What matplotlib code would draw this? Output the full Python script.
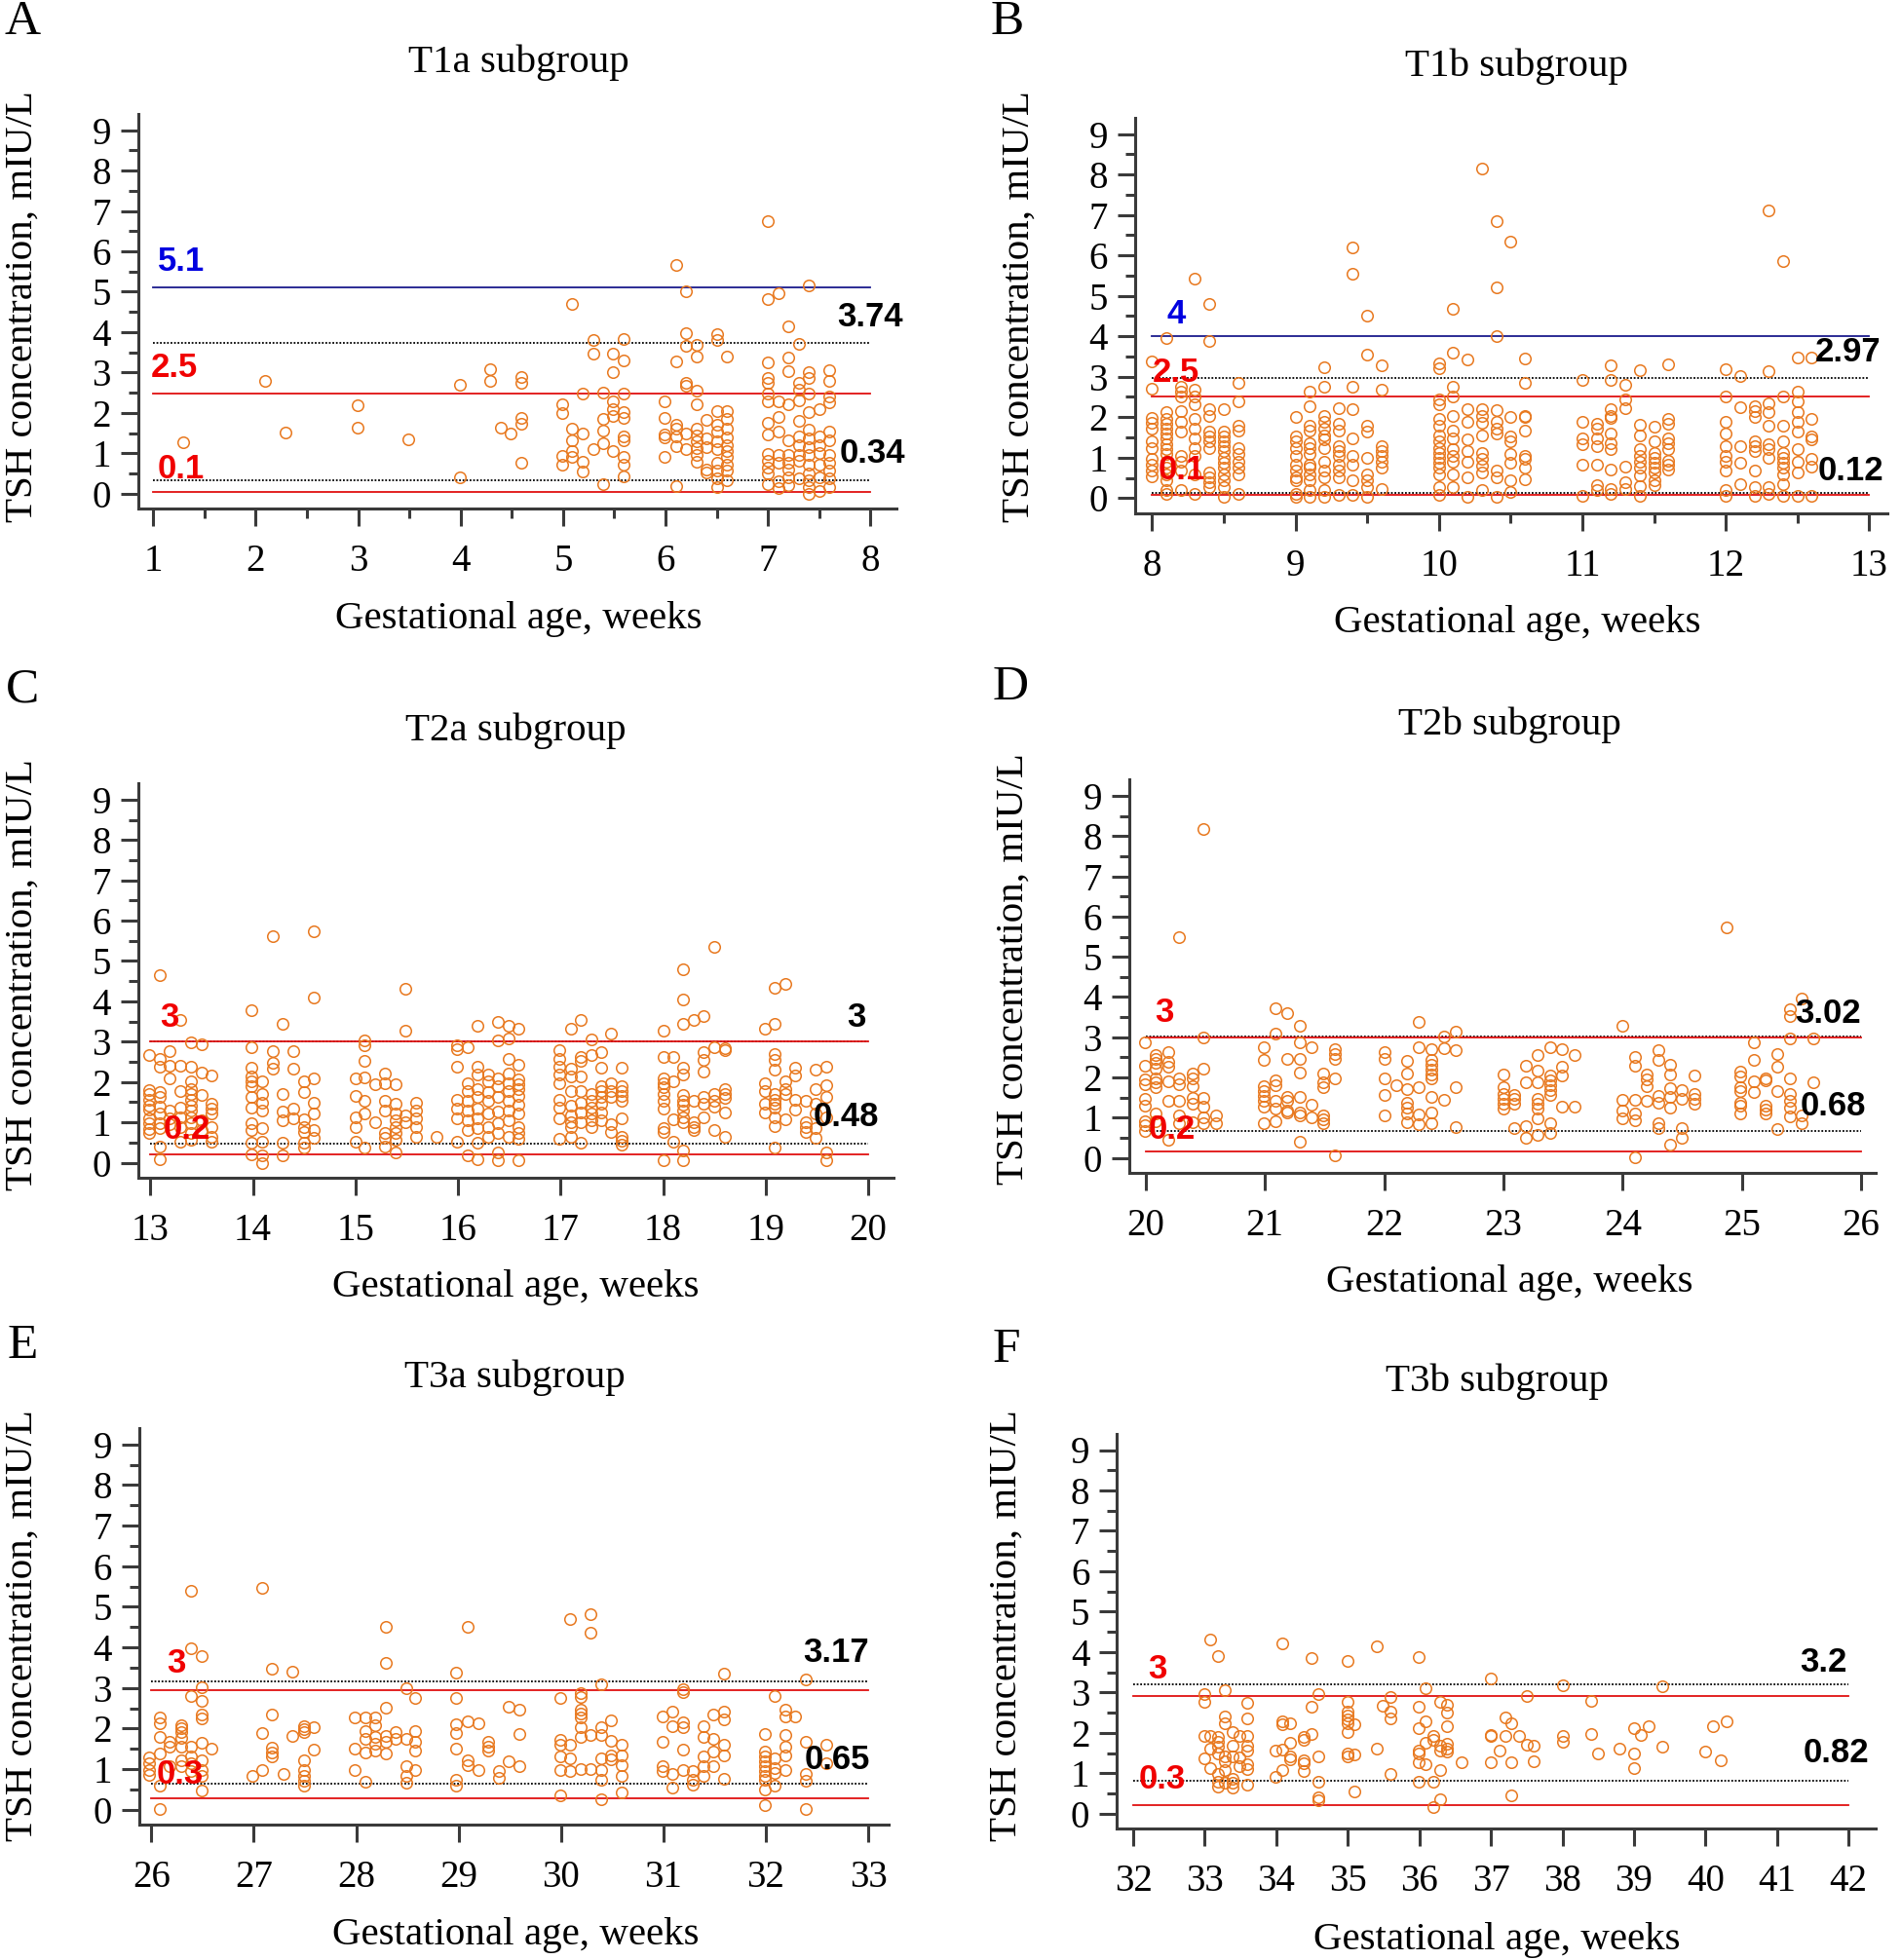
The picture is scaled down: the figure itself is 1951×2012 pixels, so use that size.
import matplotlib
matplotlib.use("Agg")
import matplotlib.pyplot as plt
from matplotlib.ticker import MultipleLocator

plt.rcParams['font.family'] = ['Liberation Serif', 'DejaVu Serif']

W, H = 1951, 2012

# ---- data: columns of points (gestational age, [TSH values]) ----
t1a_cols = [
    (1.29, [1.27]), (2.09, [2.79]), (2.29, [1.52]), (2.99, [2.18, 1.63]),
    (3.49, [1.35]), (3.99, [2.70, 0.40]), (4.29, [3.08, 2.80]), (4.39, [1.64]),
    (4.49, [1.48]), (4.59, [2.88, 2.75, 1.87, 1.73, 0.76]),
    (4.99, [2.21, 2.00, 0.94, 0.73]), (5.09, [4.70, 1.61, 1.32, 1.05, 0.90]),
    (5.19, [2.48, 1.49, 0.79, 0.55]), (5.30, [3.80, 3.46, 1.10]),
    (5.39, [2.50, 1.85, 1.56, 1.24, 0.23]), (5.49, [3.46, 3.00, 2.29, 2.09, 1.93, 1.05]),
    (5.59, [3.84, 3.30, 2.48, 2.03, 1.87, 1.43, 1.32, 0.90, 0.71, 0.42]),
    (5.99, [2.29, 1.88, 1.47, 1.40, 0.90]),
    (6.10, [5.67, 3.28, 1.71, 1.60, 1.43, 1.17, 0.20]),
    (6.20, [5.00, 3.98, 3.65, 2.75, 2.66, 1.49, 1.10]),
    (6.30, [3.68, 3.40, 2.54, 2.21, 1.61, 1.45, 1.29, 1.13, 0.97, 0.79]),
    (6.40, [1.82, 1.37, 1.16, 0.61, 0.53]),
    (6.50, [3.96, 3.80, 2.05, 1.71, 1.53, 1.29, 1.10, 0.76, 0.57, 0.39, 0.16]),
    (6.60, [3.40, 2.05, 1.85, 1.60, 1.40, 1.21, 1.06, 0.90, 0.73, 0.57, 0.33]),
    (7.00, [6.74, 4.81, 3.24, 2.87, 2.74, 2.48, 2.29, 1.75, 1.47, 0.98, 0.81, 0.65, 0.49, 0.23]),
    (7.10, [4.97, 2.29, 1.89, 1.53, 0.97, 0.77, 0.31, 0.15]),
    (7.20, [4.14, 3.38, 3.04, 2.21, 1.31, 0.97, 0.77, 0.60, 0.41, 0.21]),
    (7.30, [3.72, 2.75, 2.58, 2.30, 1.80, 1.41, 1.21, 0.97, 0.81, 0.37]),
    (7.40, [5.15, 3.02, 2.87, 2.48, 2.01, 1.59, 1.37, 1.16, 0.97, 0.73, 0.50, 0.33, 0.16, 0.00]),
    (7.50, [2.09, 1.41, 1.21, 1.01, 0.73, 0.41, 0.07]),
    (7.60, [3.06, 2.80, 2.40, 2.25, 1.55, 1.31, 0.97, 0.76, 0.57, 0.37, 0.16]),
]

t1b_cols = [
    (8.00, [3.39, 2.70, 1.97, 1.86, 1.72, 1.40, 1.24, 0.98, 0.83, 0.67, 0.53]),
    (8.10, [3.96, 2.12, 1.96, 1.84, 1.72, 1.60, 1.48, 1.33, 1.22, 1.08, 0.91, 0.75, 0.59, 0.43, 0.19, 0.11]),
    (8.20, [2.76, 2.64, 2.52, 2.16, 1.88, 1.64, 1.04, 0.91, 0.67, 0.19]),
    (8.30, [5.43, 2.68, 2.52, 2.32, 1.96, 1.72, 1.48, 1.24, 1.04, 0.59, 0.11]),
    (8.40, [4.81, 3.88, 2.20, 2.04, 1.64, 1.52, 1.40, 1.24, 0.63, 0.51, 0.39, 0.27]),
    (8.50, [2.20, 1.64, 1.52, 1.40, 1.28, 1.16, 1.00, 0.87, 0.75, 0.59, 0.43, 0.27, 0.03]),
    (8.60, [2.84, 2.40, 1.80, 1.68, 1.24, 1.08, 0.91, 0.75, 0.59, 0.11]),
    (9.00, [2.00, 1.52, 1.40, 1.24, 1.04, 0.83, 0.67, 0.51, 0.43, 0.11, 0.03]),
    (9.10, [2.62, 2.26, 1.80, 1.68, 1.36, 1.24, 1.08, 0.83, 0.75, 0.59, 0.43, 0.19, 0.03]),
    (9.20, [3.23, 2.74, 2.04, 1.88, 1.72, 1.56, 1.44, 1.24, 0.91, 0.67, 0.51, 0.19, 0.03]),
    (9.30, [2.23, 1.84, 1.68, 1.28, 1.16, 1.04, 0.83, 0.67, 0.51, 0.07]),
    (9.40, [6.20, 5.55, 2.76, 2.20, 1.48, 1.04, 0.83, 0.43, 0.07]),
    (9.50, [4.50, 3.55, 1.80, 1.64, 1.00, 0.59, 0.43, 0.27, 0.03]),
    (9.60, [3.28, 2.68, 1.28, 1.16, 1.04, 0.91, 0.75, 0.23]),
    (10.00, [3.32, 3.20, 2.44, 2.32, 1.96, 1.80, 1.56, 1.40, 1.24, 1.12, 1.00, 0.87, 0.75, 0.59, 0.27, 0.07]),
    (10.10, [4.69, 3.60, 2.76, 2.52, 2.04, 1.68, 1.48, 1.20, 1.04, 0.91, 0.59, 0.27]),
    (10.20, [3.42, 2.20, 1.89, 1.44, 1.16, 0.91, 0.51, 0.03]),
    (10.30, [8.14, 2.20, 2.02, 1.86, 1.56, 1.12, 0.96, 0.79, 0.63, 0.19]),
    (10.40, [6.84, 5.21, 4.00, 2.18, 1.88, 1.72, 1.60, 0.67, 0.51, 0.03]),
    (10.50, [6.35, 2.00, 1.52, 1.40, 1.08, 0.87, 0.43, 0.15]),
    (10.60, [3.44, 2.84, 2.04, 2.00, 1.68, 1.04, 0.96, 0.75, 0.47]),
    (11.00, [2.92, 1.89, 1.48, 1.33, 0.83, 0.05]),
    (11.10, [1.84, 1.72, 1.48, 1.28, 0.83, 0.31, 0.19]),
    (11.20, [3.27, 2.92, 2.20, 2.04, 1.97, 1.60, 1.36, 1.20, 0.71, 0.23, 0.11]),
    (11.30, [2.79, 2.44, 2.22, 0.77, 0.39, 0.23]),
    (11.40, [3.16, 1.81, 1.56, 1.20, 1.04, 0.91, 0.75, 0.55, 0.29, 0.05]),
    (11.50, [1.76, 1.40, 1.12, 1.00, 0.87, 0.75, 0.63, 0.43, 0.31]),
    (11.60, [3.30, 1.96, 1.84, 1.48, 1.36, 1.20, 0.93, 0.83, 0.71]),
    (12.00, [3.18, 2.52, 1.89, 1.60, 1.28, 1.04, 0.91, 0.67, 0.19, 0.05]),
    (12.10, [3.02, 2.24, 1.28, 0.87, 0.34]),
    (12.20, [2.28, 2.16, 2.00, 1.40, 1.28, 1.16, 0.67, 0.27, 0.05]),
    (12.30, [7.12, 3.14, 2.34, 2.12, 1.80, 1.32, 1.20, 1.00, 0.27, 0.11]),
    (12.40, [5.86, 2.52, 1.80, 1.40, 1.12, 1.00, 0.87, 0.75, 0.59, 0.35, 0.05]),
    (12.50, [3.48, 2.64, 2.38, 2.13, 1.88, 1.65, 1.20, 0.91, 0.63, 0.05]),
    (12.60, [3.48, 1.96, 1.52, 1.44, 0.96, 0.77, 0.05]),
]

t2a_cols = [
    (12.99, [2.66, 1.79, 1.71, 1.55, 1.41, 1.31, 1.09, 0.99, 0.83, 0.73]),
    (13.09, [4.66, 2.58, 2.38, 1.74, 1.62, 1.39, 1.21, 0.99, 0.85, 0.39, 0.09]),
    (13.19, [2.76, 2.40, 2.08, 1.29, 1.09, 0.95]),
    (13.29, [3.53, 2.40, 1.78, 1.37, 1.13, 0.89, 0.53]),
    (13.40, [2.98, 2.38, 2.02, 1.82, 1.70, 1.55, 1.41, 1.29, 1.13, 0.97, 0.73, 0.57]),
    (13.50, [2.94, 2.24, 1.68, 1.05, 0.81]),
    (13.60, [2.16, 1.45, 1.33, 1.21, 0.89, 0.65, 0.53]),
    (13.99, [3.79, 2.86, 2.36, 2.14, 2.02, 1.90, 1.62, 1.37, 0.97, 0.81, 0.50, 0.21]),
    (14.09, [2.02, 1.70, 1.49, 1.29, 0.85, 0.53, 0.17, 0.00]),
    (14.19, [5.62, 2.76, 2.48, 2.34]),
    (14.29, [3.44, 1.71, 1.28, 1.05, 0.50, 0.18]),
    (14.39, [2.76, 2.34, 1.33, 1.09]),
    (14.50, [2.02, 1.74, 1.07, 0.89, 0.77, 0.49, 0.37]),
    (14.59, [5.74, 4.10, 2.10, 1.49, 1.21, 0.81, 0.61]),
    (15.00, [2.10, 1.66, 1.13, 0.87, 0.53]),
    (15.09, [3.02, 2.92, 2.52, 2.11, 1.53, 1.21, 0.37]),
    (15.19, [1.95, 1.01]),
    (15.29, [2.22, 1.98, 1.53, 1.29, 0.73, 0.61, 0.41]),
    (15.39, [1.95, 1.45, 1.21, 1.05, 0.89, 0.73, 0.57, 0.25]),
    (15.49, [4.30, 3.28, 1.17, 1.01]),
    (15.59, [1.49, 1.29, 1.09, 0.89, 0.65]),
    (15.79, [0.65]),
    (15.99, [2.90, 2.82, 2.38, 1.55, 1.33, 1.09, 0.53]),
    (16.09, [2.86, 1.98, 1.78, 1.53, 1.29, 1.05, 0.81, 0.17]),
    (16.19, [3.40, 2.38, 2.18, 1.82, 1.62, 1.33, 1.09, 0.85, 0.49, 0.09]),
    (16.29, [2.19, 2.02, 1.74, 1.53, 1.21, 0.89, 0.65]),
    (16.39, [3.48, 3.02, 2.10, 1.90, 1.62, 1.28, 0.97, 0.73, 0.25, 0.05]),
    (16.49, [3.39, 3.08, 2.57, 2.22, 1.98, 1.78, 1.53, 1.29, 1.05, 0.65]),
    (16.59, [3.32, 2.42, 2.06, 1.95, 1.82, 1.66, 1.44, 1.21, 0.89, 0.73, 0.58, 0.05]),
    (16.99, [2.78, 2.58, 2.38, 2.18, 1.98, 1.57, 1.37, 1.09, 0.58]),
    (17.10, [3.31, 2.34, 2.14, 1.78, 1.41, 1.17, 1.01, 0.89, 0.63]),
    (17.20, [3.55, 2.62, 2.52, 2.14, 1.78, 1.49, 1.25, 1.01, 0.50]),
    (17.30, [3.06, 2.66, 1.71, 1.53, 1.37, 1.21, 1.05, 0.89]),
    (17.40, [2.73, 2.36, 1.90, 1.78, 1.62, 1.45, 1.25, 1.05]),
    (17.49, [3.20, 1.98, 1.78, 1.62, 0.95, 0.77]),
    (17.60, [2.36, 1.90, 1.78, 1.66, 1.53, 1.09, 0.63, 0.55, 0.45]),
    (18.00, [3.27, 2.62, 2.10, 1.98, 1.86, 1.71, 1.53, 1.33, 0.85, 0.77, 0.05]),
    (18.10, [2.62, 2.02, 1.07, 0.53]),
    (18.19, [4.80, 4.05, 3.45, 2.36, 2.18, 1.68, 1.53, 1.44, 1.29, 1.13, 1.01, 0.29, 0.05]),
    (18.30, [3.55, 1.53, 1.01, 0.89, 0.81]),
    (18.39, [3.63, 2.73, 2.54, 2.26, 1.63, 1.45, 1.13]),
    (18.50, [5.36, 2.86, 1.70, 1.53, 1.39, 0.81]),
    (18.60, [2.84, 2.78, 1.82, 1.70, 1.60, 1.25, 0.63]),
    (18.99, [3.32, 1.98, 1.78, 1.45, 1.25]),
    (19.09, [4.34, 3.43, 2.70, 2.54, 2.30, 1.70, 1.57, 1.45, 1.36, 1.13, 0.91, 0.37]),
    (19.19, [4.43, 2.02, 1.82, 1.70, 1.07]),
    (19.29, [2.36, 2.16, 1.55, 1.31]),
    (19.39, [1.53, 1.01, 0.89, 0.77]),
    (19.49, [2.30, 1.82, 1.45, 1.21, 0.85, 0.61]),
    (19.59, [2.38, 1.91, 1.63, 1.13, 0.25, 0.07]),
]

t2b_cols = [
    (19.99, [2.87, 2.29, 1.95, 1.83, 1.46, 1.30, 0.92, 0.82, 0.66]),
    (20.08, [2.55, 2.47, 2.37, 2.21, 1.99, 1.89, 1.76, 1.10, 0.92]),
    (20.19, [2.63, 2.39, 2.27, 1.91, 1.41, 0.45]),
    (20.28, [5.49, 1.99, 1.83, 1.41, 1.06, 0.86]),
    (20.39, [2.11, 1.99, 1.79, 1.50, 1.34, 0.90]),
    (20.48, [8.18, 3.00, 2.21, 1.50, 1.28, 1.02, 0.86]),
    (20.59, [1.06, 0.86]),
    (20.99, [2.75, 2.43, 1.79, 1.66, 1.54, 1.42, 1.28, 0.87]),
    (21.09, [3.72, 3.09, 1.92, 1.81, 1.41, 1.22, 0.92]),
    (21.19, [3.60, 2.47, 1.52, 1.41, 1.18, 1.12]),
    (21.29, [3.28, 2.87, 2.47, 2.13, 1.52, 1.14, 1.06, 0.41]),
    (21.39, [2.75, 1.33, 1.00]),
    (21.49, [2.11, 1.87, 1.76, 1.06, 0.95, 0.86]),
    (21.59, [2.71, 2.59, 2.47, 1.99, 0.07]),
    (22.00, [2.63, 2.47, 1.99, 1.57, 1.07]),
    (22.10, [1.81]),
    (22.19, [2.41, 2.11, 1.70, 1.38, 1.26, 1.11, 0.90]),
    (22.29, [3.38, 2.75, 1.76, 1.08, 0.84]),
    (22.40, [2.70, 2.43, 2.31, 2.19, 2.07, 1.99, 1.53, 1.14, 0.87]),
    (22.50, [3.02, 2.73, 1.44]),
    (22.60, [3.13, 2.69, 1.77, 0.76]),
    (23.00, [2.08, 1.75, 1.60, 1.46, 1.34, 1.22]),
    (23.09, [1.57, 1.46, 1.36, 0.74]),
    (23.19, [2.29, 1.89, 0.78, 0.49]),
    (23.29, [2.55, 2.16, 1.89, 1.46, 1.34, 1.22, 0.98, 0.57]),
    (23.39, [2.75, 2.05, 1.92, 1.81, 1.68, 1.57, 0.87, 0.63]),
    (23.49, [2.71, 2.27, 2.05, 1.28]),
    (23.60, [2.55, 1.28]),
    (24.00, [3.29, 1.44, 1.18, 0.98]),
    (24.10, [2.51, 2.29, 1.44, 1.10, 0.94, 0.01]),
    (24.20, [2.08, 1.95, 1.79, 1.42]),
    (24.30, [2.67, 2.43, 1.54, 1.38, 0.86, 0.74]),
    (24.40, [2.31, 2.08, 1.73, 1.52, 1.24, 0.33]),
    (24.50, [1.68, 1.46, 0.74, 0.49]),
    (24.60, [2.05, 1.58, 1.46, 1.34]),
    (24.87, [5.74]),
    (24.99, [2.15, 2.03, 1.75, 1.66, 1.38, 1.30, 1.11]),
    (25.10, [2.87, 2.43, 1.91, 1.65]),
    (25.20, [1.99, 1.92, 1.30, 1.20, 1.11]),
    (25.30, [2.59, 2.27, 1.66, 0.71]),
    (25.40, [3.70, 3.52, 2.97, 1.99, 1.58, 1.42, 1.26, 1.03]),
    (25.50, [3.96, 1.06, 0.86]),
    (25.60, [2.96, 1.88]),
]

t3a_cols = [
    (25.98, [1.28, 1.15, 0.99, 0.87]),
    (26.08, [2.27, 2.12, 1.79, 1.39, 0.59, 0.03]),
    (26.18, [1.67, 1.56, 1.07]),
    (26.29, [2.08, 2.01, 1.91, 1.77, 1.56, 1.23, 1.07]),
    (26.39, [5.39, 3.97, 2.81, 1.56, 1.31, 1.15, 0.95]),
    (26.49, [3.79, 3.01, 2.68, 2.35, 2.25, 1.64, 1.21, 0.99, 0.83, 0.47]),
    (26.59, [1.50]),
    (26.99, [0.84]),
    (27.08, [5.46, 1.88, 0.97]),
    (27.18, [3.47, 2.35, 1.53, 1.40, 1.31]),
    (27.29, [0.89]),
    (27.38, [3.40, 1.82]),
    (27.49, [2.06, 1.99, 1.91, 1.23, 0.99, 0.83, 0.71, 0.59]),
    (27.59, [2.04, 1.48]),
    (27.99, [2.27, 1.51, 0.99]),
    (28.09, [2.27, 1.93, 1.75, 1.40, 0.70]),
    (28.19, [2.27, 2.09, 1.79, 1.63, 1.47]),
    (28.29, [4.51, 3.63, 2.52, 1.83, 1.67, 1.39]),
    (28.39, [1.91, 1.75]),
    (28.49, [2.99, 1.75, 1.07, 0.83, 0.67]),
    (28.58, [2.76, 1.93, 1.67, 1.47, 0.97]),
    (28.98, [3.39, 2.76, 2.11, 1.88, 1.51, 0.75, 0.59]),
    (29.09, [4.51, 2.19, 1.23, 1.11]),
    (29.19, [2.14, 0.97]),
    (29.29, [1.67, 1.56, 1.45]),
    (29.39, [0.95, 0.79]),
    (29.49, [2.53, 1.20]),
    (29.59, [2.46, 1.87, 1.07]),
    (29.99, [2.76, 1.72, 1.61, 1.31, 0.99, 0.36]),
    (30.09, [4.70, 1.61, 1.27, 0.95]),
    (30.19, [2.87, 2.79, 2.47, 2.36, 2.28, 2.03, 1.79, 1.00]),
    (30.29, [4.81, 4.36, 1.85, 1.00]),
    (30.39, [3.08, 2.04, 1.85, 1.27, 0.99, 0.75, 0.25]),
    (30.49, [2.20, 1.71, 1.35, 1.24]),
    (30.59, [1.61, 1.35, 1.11, 0.83, 0.43]),
    (30.99, [2.31, 1.67, 1.07, 0.95]),
    (31.09, [2.41, 2.07, 0.89, 0.55]),
    (31.19, [2.97, 2.91, 2.15, 2.04, 1.48, 0.99]),
    (31.29, [0.95, 0.75, 0.63]),
    (31.39, [2.07, 1.79, 1.31, 1.08, 0.84]),
    (31.49, [2.35, 1.75, 1.43, 1.07]),
    (31.59, [3.36, 2.41, 2.23, 1.61, 1.35, 0.76]),
    (31.99, [1.87, 1.43, 1.31, 1.19, 1.07, 0.95, 0.83, 0.75, 0.51, 0.12]),
    (32.09, [2.80, 1.27, 1.03, 0.91, 0.59]),
    (32.19, [2.46, 2.31, 1.85, 1.56, 1.35, 0.99]),
    (32.29, [2.31]),
    (32.39, [3.21, 1.67, 0.89, 0.71, 0.01]),
    (32.59, [1.61, 1.15]),
]

t3b_cols = [
    (32.99, [2.97, 2.77, 1.93, 1.37]),
    (33.08, [4.32, 1.93, 1.61, 1.13]),
    (33.18, [3.90, 1.89, 1.77, 1.65, 1.49, 0.97, 0.78, 0.68]),
    (33.28, [3.06, 2.41, 2.23, 1.41, 1.29, 1.09, 0.76]),
    (33.39, [2.03, 1.69, 1.41, 0.86, 0.76, 0.64]),
    (33.49, [1.93, 1.39, 1.17]),
    (33.59, [2.73, 2.35, 1.93, 1.69, 1.57, 1.23, 1.10, 0.72]),
    (33.99, [1.55, 0.91]),
    (34.09, [4.22, 2.29, 2.21, 1.59, 1.09]),
    (34.19, [2.24, 1.75, 1.41, 1.34]),
    (34.39, [1.89, 1.83, 1.31, 1.25, 1.05]),
    (34.49, [3.84, 2.65, 1.97]),
    (34.59, [2.97, 1.41, 0.80, 0.40, 0.32]),
    (34.99, [3.77, 2.77, 2.53, 2.44, 2.33, 2.23, 2.03, 1.50, 1.42]),
    (35.09, [2.21, 1.47, 0.54]),
    (35.40, [4.14, 1.61]),
    (35.49, [2.67]),
    (35.59, [2.89, 2.53, 2.36, 0.97]),
    (35.99, [3.88, 2.65, 2.11, 1.57, 1.49, 1.26, 0.80]),
    (36.09, [3.11, 2.28, 1.75, 1.23]),
    (36.19, [1.91, 1.83, 0.78, 0.16]),
    (36.29, [2.77, 1.69, 1.57, 1.09, 0.35]),
    (36.39, [2.69, 2.49, 2.17, 1.73, 1.61, 1.53]),
    (36.59, [1.26]),
    (37.00, [3.34, 1.95, 1.91, 1.26]),
    (37.12, [1.57]),
    (37.20, [2.39, 1.91]),
    (37.29, [2.23, 1.26, 0.44]),
    (37.40, [1.91]),
    (37.50, [2.91, 1.71]),
    (37.60, [1.69, 1.29]),
    (38.00, [3.18, 1.93, 1.77]),
    (38.40, [2.80, 1.97]),
    (38.50, [1.50]),
    (38.80, [1.61]),
    (39.00, [2.11, 1.50, 1.13]),
    (39.10, [1.95]),
    (39.20, [2.17]),
    (39.40, [3.16, 1.66]),
    (40.00, [1.54]),
    (40.11, [2.17]),
    (40.21, [1.31]),
    (40.30, [2.28]),
]

# reference lines: (value, kind)
t1a_lines = [(5.1, 'blue'), (3.74, 'dot'), (2.48, 'red'), (0.34, 'dot'), (0.05, 'red')]
t1b_lines = [(4.0, 'blue'), (2.97, 'dot'), (2.5, 'red'), (0.12, 'dot'), (0.09, 'red')]
t2a_lines = [(3.0, 'dot'), (3.0, 'red'), (0.48, 'dot'), (0.21, 'red')]
t2b_lines = [(3.02, 'dot'), (2.99, 'red'), (0.68, 'dot'), (0.16, 'red')]
t3a_lines = [(3.17, 'dot'), (2.95, 'red'), (0.65, 'dot'), (0.28, 'red')]
t3b_lines = [(3.2, 'dot'), (2.92, 'red'), (0.82, 'dot'), (0.22, 'red')]

# value labels: (text, x, y, kind, ha)
t1a_labels = [('5.1', 1.04, 5.75, 'blue', 'left'), ('2.5', 0.98, 3.12, 'red', 'left'),
              ('0.1', 1.04, 0.61, 'red', 'left'), ('3.74', 8.32, 4.37, 'black', 'right'),
              ('0.34', 8.34, 1.0, 'black', 'right')]
t1b_labels = [('4', 8.10, 4.55, 'blue', 'left'), ('2.5', 8.0, 3.1, 'red', 'left'),
              ('0.1', 8.04, 0.69, 'red', 'left'), ('2.97', 13.08, 3.6, 'black', 'right'),
              ('0.12', 13.1, 0.66, 'black', 'right')]
t2a_labels = [('3', 13.09, 3.61, 'red', 'left'), ('0.2', 13.13, 0.83, 'red', 'left'),
              ('3', 19.98, 3.59, 'black', 'right'), ('0.48', 20.11, 1.13, 'black', 'right')]
t2b_labels = [('3', 20.08, 3.62, 'red', 'left'), ('0.2', 20.02, 0.71, 'red', 'left'),
              ('3.02', 26.0, 3.6, 'black', 'right'), ('0.68', 26.04, 1.28, 'black', 'right')]
t3a_labels = [('3', 26.15, 3.61, 'red', 'left'), ('0.3', 26.05, 0.87, 'red', 'left'),
              ('3.17', 33.01, 3.87, 'black', 'right'), ('0.65', 33.02, 1.23, 'black', 'right')]
t3b_labels = [('3', 32.21, 3.58, 'red', 'left'), ('0.3', 32.07, 0.86, 'red', 'left'),
              ('3.2', 41.98, 3.75, 'black', 'right'), ('0.82', 42.29, 1.49, 'black', 'right')]

titles = ['T1a subgroup', 'T1b subgroup', 'T2a subgroup', 'T2b subgroup', 'T3a subgroup', 'T3b subgroup']
letters = ['A', 'B', 'C', 'D', 'E', 'F']
x_ticks = [list(range(1, 9)), list(range(8, 14)), list(range(13, 21)),
           list(range(20, 27)), list(range(26, 34)), list(range(32, 43))]

# ---- layout (full-size pixel calibration of two ticks per axis) ----
panels = [
    dict(cal=(1, 157.3, 8, 893.3), ylo=506.8, yhi=133.6, xlim=(0.85, 8.25), minor=True,
         title=(415, 50), letter=(18, 18), xl=(415, 495), yl=(18, 245)),
    dict(cal=(8, 1182.3, 13, 1918.3), ylo=511.3, yhi=137.5, xlim=(7.88, 13.13), minor=True,
         title=(1213, 53), letter=(805, 18), xl=(1213, 498), yl=(815, 245)),
    dict(cal=(13, 154.3, 20, 891.0), ylo=1193.5, yhi=820.9, xlim=(12.88, 20.25), minor=False,
         title=(412, 585), letter=(18, 552), xl=(412, 1030), yl=(18, 780)),
    dict(cal=(20, 1175.8, 26, 1910.0), ylo=1188.7, yhi=817.0, xlim=(19.86, 26.12), minor=False,
         title=(1207, 580), letter=(808, 550), xl=(1207, 1026), yl=(810, 775)),
    dict(cal=(26, 155.3, 33, 891.0), ylo=1857.8, yhi=1482.8, xlim=(25.88, 33.2), minor=False,
         title=(412, 1102), letter=(18, 1077), xl=(412, 1548), yl=(18, 1300)),
    dict(cal=(32, 1163.0, 42, 1897.2), ylo=1861.7, yhi=1488.5, xlim=(31.77, 42.38), minor=False,
         title=(1197, 1105), letter=(805, 1080), xl=(1197, 1552), yl=(805, 1300)),
]
YLIM = (-0.37, 9.4)

cols_all = [t1a_cols, t1b_cols, t2a_cols, t2b_cols, t3a_cols, t3b_cols]
lines_all = [t1a_lines, t1b_lines, t2a_lines, t2b_lines, t3a_lines, t3b_lines]
labels_all = [t1a_labels, t1b_labels, t2a_labels, t2b_labels, t3a_labels, t3b_labels]

ORANGE = '#E8781E'
REDL = '#E01010'
BLUEL = '#1A1A8C'
TXT = {'red': '#F00000', 'blue': '#0000E0', 'black': '#000000'}
SPINE = '#3a3a3a'
LBLFONT = ['Liberation Sans Narrow', 'Liberation Sans', 'DejaVu Sans']


def rect(p):
    xa, pxa, xb, pxb = p['cal']
    sx = (pxb - pxa) / (xb - xa)
    left = pxa + (p['xlim'][0] - xa) * sx
    right = pxa + (p['xlim'][1] - xa) * sx
    sy = (p['ylo'] - p['yhi']) / 9.0
    bot = p['ylo'] - YLIM[0] * sy
    top = p['ylo'] - YLIM[1] * sy
    return [left / W, 1 - bot / H, (right - left) / W, (bot - top) / H]


def sp(x, y):
    # preview coordinates (1520x1568) to figure fraction
    return x / 1520, 1 - y / 1568


fig = plt.figure(figsize=(W / 100, H / 100), dpi=100)

for i, p in enumerate(panels):
    ax = fig.add_axes(rect(p))
    xs, ys = [], []
    for x, vals in cols_all[i]:
        xs += [x] * len(vals)
        ys += vals
    ax.plot(xs, ys, 'o', mfc='none', mec=ORANGE, ms=8.3, mew=1.1, zorder=3)

    lo, hi = x_ticks[i][0], x_ticks[i][-1]
    for val, kind in lines_all[i]:
        if kind == 'dot':
            ax.plot([lo, hi], [val, val], color='black', lw=1.3, ls=(0, (1, 1)), zorder=2)
        elif kind == 'red':
            ax.plot([lo, hi], [val, val], color=REDL, lw=1.3, zorder=2)
        else:
            ax.plot([lo, hi], [val, val], color=BLUEL, lw=1.3, zorder=2)

    for txt, x, y, kind, ha in labels_all[i]:
        ax.text(x, y, txt, color=TXT[kind], ha=ha, va='center', fontsize=25,
                fontweight='bold', family=LBLFONT, zorder=4)

    ax.set_xlim(*p['xlim'])
    ax.set_ylim(*YLIM)
    ax.set_xticks(x_ticks[i])
    ax.set_yticks(range(10))
    ax.yaxis.set_minor_locator(MultipleLocator(0.5))
    if p['minor']:
        ax.xaxis.set_minor_locator(MultipleLocator(0.5))
    for s in ['top', 'right']:
        ax.spines[s].set_visible(False)
    for s in ['left', 'bottom']:
        ax.spines[s].set_color(SPINE)
        ax.spines[s].set_linewidth(2.2)
    ax.tick_params(which='major', length=13, width=2.2, color=SPINE, labelsize=28)
    ax.tick_params(which='minor', length=7, width=2.2, color=SPINE)
    ax.tick_params(axis='x', which='major', pad=13)
    ax.tick_params(axis='y', which='major', pad=7)

    fig.text(*sp(*p['title']), titles[i], ha='center', va='center', fontsize=29.5)
    fig.text(*sp(*p['letter']), letters[i], ha='center', va='center', fontsize=37)
    fig.text(*sp(*p['xl']), 'Gestational age, weeks', ha='center', va='center', fontsize=29.5)
    fig.text(*sp(*p['yl']), 'TSH concentration, mIU/L', ha='center', va='center',
             fontsize=29.5, rotation=90)

fig.savefig('out.png', dpi=100)
